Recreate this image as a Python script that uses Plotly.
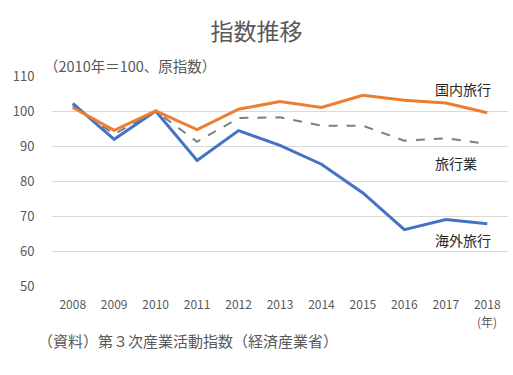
import plotly.graph_objects as go

years = ["2008", "2009", "2010", "2011", "2012", "2013", "2014", "2015", "2016", "2017", "2018"]
domestic = [101.0, 94.5, 100.0, 94.7, 100.5, 102.7, 101.0, 104.5, 103.1, 102.3, 99.5]
overseas = [102.2, 91.9, 100.0, 85.9, 94.4, 90.2, 84.8, 76.6, 66.1, 69.0, 67.8]
agency = [101.5, 93.4, 100.0, 91.2, 98.0, 98.2, 95.8, 95.8, 91.5, 92.2, 90.6]
y_ticks = [50, 60, 70, 80, 90, 100, 110]

FONT = "Noto Sans CJK JP"
GRAY = "#595959"

fig = go.Figure()
fig.add_trace(go.Scatter(x=years, y=agency, mode="lines", name="旅行業",
                         line=dict(color="#7F7F7F", width=2, dash="dash")))
fig.add_trace(go.Scatter(x=years, y=overseas, mode="lines", name="海外旅行",
                         line=dict(color="#4472C4", width=3)))
fig.add_trace(go.Scatter(x=years, y=domestic, mode="lines", name="国内旅行",
                         line=dict(color="#ED7D31", width=3)))

fig.update_layout(
    width=513, height=375,
    margin=dict(l=52, r=5, t=76, b=89),
    paper_bgcolor="white", plot_bgcolor="white",
    showlegend=False,
    font=dict(family=FONT, color=GRAY, size=12),
    title=dict(text="指数推移", x=0.5, xanchor="center", y=1 - 32 / 375, yanchor="middle",
               font=dict(size=23, color=GRAY, family=FONT)),
    xaxis=dict(type="category", range=[-0.5, len(years) - 0.5], showgrid=False,
               showline=False, zeroline=False,
               ticks="outside", ticklen=8, tickcolor="rgba(0,0,0,0)",
               tickfont=dict(size=12, color=GRAY)),
    yaxis=dict(range=[50, 110], tickvals=y_ticks, showgrid=True, gridcolor="#D9D9D9",
               gridwidth=1, zeroline=False, showline=False,
               ticks="outside", ticklen=14, tickcolor="rgba(0,0,0,0)",
               tickfont=dict(size=13, color=GRAY)),
)

ann = [
    dict(text="（2010年＝100、原指数）", x=42, y=66, size=14.5, color=GRAY, xanchor="left"),
    dict(text="国内旅行", x=463, y=89, size=14, color="#262626", xanchor="center"),
    dict(text="旅行業", x=456, y=163, size=14, color="#262626", xanchor="center"),
    dict(text="海外旅行", x=463, y=240, size=14, color="#262626", xanchor="center"),
    dict(text="(年)", x=487, y=321, size=12, color=GRAY, xanchor="center"),
    dict(text="（資料）第３次産業活動指数（経済産業省）", x=36, y=340, size=15, color=GRAY, xanchor="left"),
]
for a in ann:
    fig.add_annotation(text=a["text"], xref="paper", yref="paper",
                       x=(a["x"] - 52) / 456, y=1 - (a["y"] - 76) / 210,
                       xanchor=a["xanchor"], yanchor="middle", showarrow=False,
                       font=dict(size=a["size"], color=a["color"], family=FONT))

fig.write_html("out.html", config={"displayModeBar": False},
               post_script="document.body.style.margin='0';document.body.style.overflow='hidden';")
